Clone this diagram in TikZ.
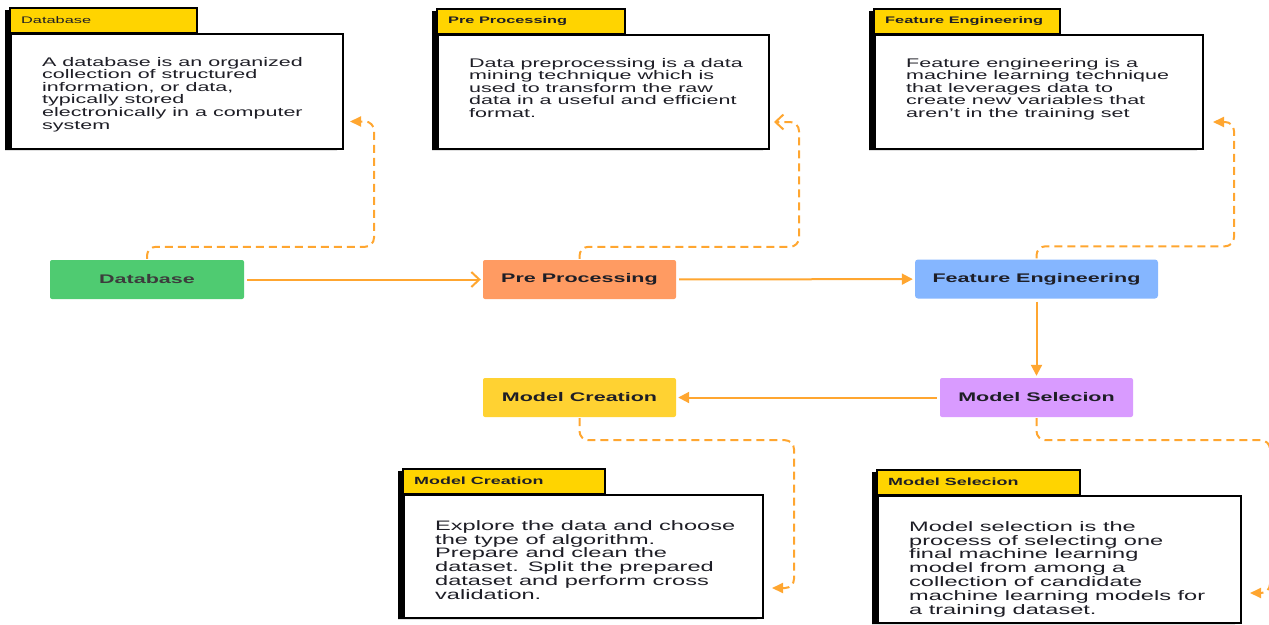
\documentclass[tikz,border=0pt]{standalone}
\usepackage{fontspec}
\setmainfont[FakeStretch=1.72]{Liberation Sans}
\usetikzlibrary{arrows.meta}
\definecolor{myorange}{RGB}{255,166,48}
\definecolor{mygreen}{RGB}{79,203,113}
\definecolor{mysalmon}{RGB}{255,155,98}
\definecolor{myblue}{RGB}{133,182,255}
\definecolor{mygold}{RGB}{255,210,50}
\definecolor{myviolet}{RGB}{217,155,255}
\definecolor{mytab}{RGB}{255,212,0}
\definecolor{mytext}{RGB}{30,30,38}
\definecolor{mygray}{RGB}{60,60,60}

\begin{document}
\begin{tikzpicture}[x=1pt,y=-1pt,
    stage/.style={inner sep=0pt,minimum width=193pt,minimum height=39pt,rounded corners=2pt,
      text=mytext,font=\fontsize{12.5}{14}\selectfont\bfseries},
    flow/.style={draw=myorange,line width=2pt,shorten <=3pt,shorten >=2pt,
      -{Triangle[length=11pt,width=11pt]}},
    hint/.style={draw=myorange,line width=2pt,dash pattern=on 8pt off 5pt,rounded corners=9pt,
      shorten <=1pt,-{Triangle[length=11pt,width=10pt]}},
    openhead/.style={-{Straight Barb[length=8pt,width=15pt]}},
    notebox/.style={draw=black,line width=2pt},
    tabtitle/.style={inner sep=0pt,anchor=west,text=mytext},
    notetext/.style={inner sep=0pt,anchor=north west,align=left,text=mytext}]
    \useasboundingbox (0,0) rectangle (1269,624);

    % Note with a yellow tab and a drop shadow
    \newcommand{\drawNote}[9]{% name, x, y, tab width, body width, body height, font size, title, text
      \pgfmathsetmacro{\tabSize}{#7*0.76}
      \pgfmathsetmacro{\lineSkip}{#7*1.01}
      \fill[black,shift={(-5,2)}] (#2,#3) -- (#2+#4,#3) -- (#2+#4,#3+25) -- (#2+#5,#3+25)
        -- (#2+#5,#3+25+#6) -- (#2,#3+25+#6) -- cycle;
      \draw[notebox,fill=mytab] (#2,#3) rectangle (#2+#4,#3+25);
      \node[tabtitle,font=\fontsize{\tabSize}{\tabSize}\selectfont\bfseries] at (#2+11,#3+12) {#8};
      \node[notebox,fill=white,inner sep=0pt,minimum width=#5,minimum height=#6,anchor=north west]
        (#1) at (#2,#3+25) {};
      \node[notetext,font=\fontsize{#7}{\lineSkip}\selectfont] at (#2+32,#3+25+#7*1.9) {#9};
    }

    % Notes
    \drawNote{dbnote}{10}{8}{187}{332}{115}{12.5}{\mdseries Database}{A database is an organized\\collection of structured\\information, or data,\\typically stored\\electronically in a computer\\system}
    \drawNote{prenote}{437}{9}{188}{331}{114}{12.5}{Pre Processing}{Data preprocessing is a data\\mining technique which is\\used to transform the raw\\data in a useful and efficient\\format.}
    \drawNote{featnote}{874}{9}{186}{328}{114}{12.5}{Feature Engineering}{Feature engineering is a\\machine learning technique\\that leverages data to\\create new variables that\\aren't in the training set}
    \drawNote{mcnote}{403}{469}{202}{359}{123}{13.7}{Model Creation}{Explore the data and choose\\the type of algorithm.\\Prepare and clean the\\dataset. Split the prepared\\dataset and perform cross\\validation.}
    \drawNote{msnote}{877}{470}{203}{363}{127}{13.7}{Model Selecion}{Model selection is the\\process of selecting one\\final machine learning\\model from among a\\collection of candidate\\machine learning models for\\a training dataset.}

    % Stages
    \node[stage,fill=mygreen,text=mygray,minimum width=194pt] (db) at (147,279.5) {Database};
    \node[stage,fill=mysalmon] (pre) at (579.5,279.5) {Pre Processing};
    \node[stage,fill=myblue,minimum width=243pt,rounded corners=3pt] (feat) at (1036.5,279) {Feature Engineering};
    \node[stage,fill=myviolet] (ms) at (1036.5,397.5) {Model Selecion};
    \node[stage,fill=mygold] (mc) at (579.5,397.5) {Model Creation};

    % Main flow
    \draw[flow,openhead] (db) -- (pre);
    \draw[flow] (pre) -- (feat);
    \draw[flow] (feat) -- (ms);
    \draw[flow] (ms) -- (mc);

    % Dashed links to the notes
    \coordinate (dbtip) at ([xshift=6pt,yshift=-30pt]dbnote.east);
    \coordinate (pretip) at ([xshift=4pt,yshift=-30pt]prenote.east);
    \coordinate (feattip) at ([xshift=9pt,yshift=-30pt]featnote.east);
    \coordinate (mctip) at ([xshift=8pt,yshift=-31.5pt]mcnote.east);
    \coordinate (mstip) at ([xshift=8pt,yshift=-33.5pt]msnote.east);
    \draw[hint] (db.north) -- ++(0,-13) -| ([xshift=24pt]dbtip) -- (dbtip);
    \draw[hint,openhead] (pre.north) -- ++(0,-13) -| ([xshift=25pt]pretip) -- (pretip);
    \draw[hint] (feat.north) -- ++(0,-13) -| ([xshift=21pt]feattip) -- (feattip);
    \draw[hint] (mc.south) -- ++(0,23) -| ([xshift=22pt]mctip) -- (mctip);
    \draw[hint] (ms.south) -- ++(0,23) -| ([xshift=20pt]mstip) -- (mstip);
\end{tikzpicture}
\end{document}
